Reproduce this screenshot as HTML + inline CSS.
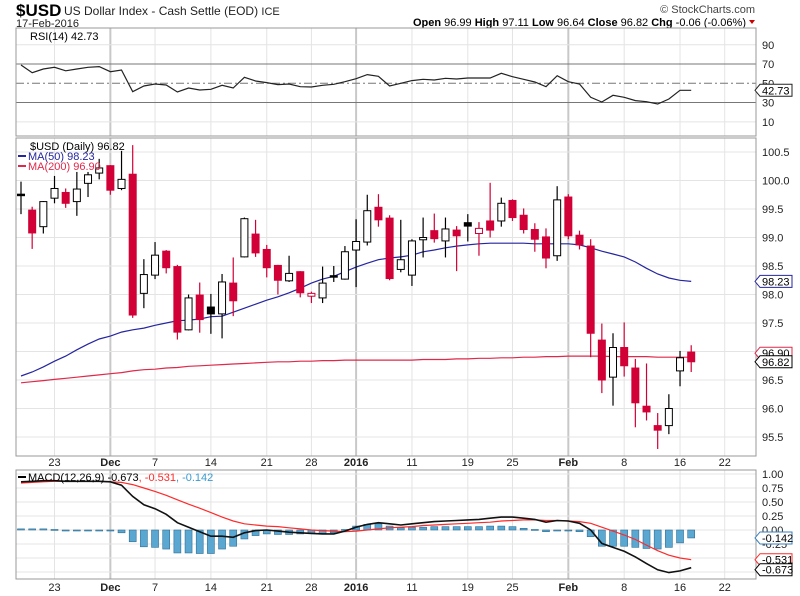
<!DOCTYPE html>
<html><head><meta charset="utf-8"><style>
body{margin:0;background:#fff;}
svg{display:block;font-family:"Liberation Sans",sans-serif;}
</style></head><body>
<svg id="chart" width="800" height="596" viewBox="0 0 800 596" xmlns="http://www.w3.org/2000/svg">
<text x="16" y="16" font-size="17" font-weight="bold" fill="#000">$USD</text>
<text x="64" y="15" font-size="12" fill="#222">US Dollar Index - Cash Settle (EOD) <tspan font-size="11">ICE</tspan></text>
<text x="16" y="27" font-size="11" fill="#222">17-Feb-2016</text>
<text x="755" y="13" font-size="11" fill="#444" text-anchor="end">© StockCharts.com</text>
<text x="746" y="26" font-size="11" fill="#000" text-anchor="end"><tspan font-weight="bold">Open</tspan> 96.99  <tspan font-weight="bold">High</tspan> 97.11  <tspan font-weight="bold">Low</tspan> 96.64  <tspan font-weight="bold">Close</tspan> 96.82  <tspan font-weight="bold">Chg</tspan> -0.06 (-0.06%)</text>
<path d="M749 20 L755 20 L752 24 Z" fill="#c00"/>
<g id="grid"></g>
<g id="marks"></g>
<g id="labels"></g>
</svg>
<script>
const opens=[99.76,99.48,99.19,99.69,99.79,99.63,99.95,100.13,100.26,99.86,100.11,98.02,98.34,98.76,98.49,97.38,97.99,97.78,97.66,98.20,98.66,99.06,98.79,98.51,98.24,98.40,97.97,97.94,98.33,98.27,98.78,98.92,99.53,99.34,98.44,98.34,98.96,99.12,98.94,99.13,99.26,99.07,99.29,99.29,99.65,99.39,99.14,99.01,98.68,99.71,99.04,98.85,97.20,96.55,97.07,96.71,96.04,95.70,95.70,96.66,96.99];
const highs=[99.98,99.54,99.64,100.08,99.86,100.15,100.15,100.38,100.27,100.52,100.62,98.62,98.92,98.78,98.52,98.00,98.21,98.01,98.36,98.65,99.35,99.31,98.87,98.52,98.68,98.41,98.05,98.49,98.50,98.85,99.32,99.75,99.76,99.39,99.31,98.97,99.35,99.42,99.35,99.20,99.41,99.27,99.96,99.70,99.67,99.51,99.25,99.16,99.90,99.76,99.12,98.97,97.49,97.32,97.51,96.87,96.79,95.92,96.25,97.01,97.11];
const lows=[99.41,98.80,99.07,99.60,99.52,99.38,99.71,100.02,99.75,99.83,97.59,97.76,98.27,98.37,97.21,97.37,97.33,97.31,97.23,97.62,98.65,98.66,98.30,98.00,98.22,97.95,97.85,97.85,98.22,98.26,98.13,98.86,99.19,98.25,98.39,98.15,98.65,98.91,98.65,98.41,98.93,98.68,99.00,99.19,99.29,99.07,98.75,98.46,98.59,98.97,98.79,96.90,96.27,96.05,96.56,95.67,95.79,95.29,95.55,96.39,96.64];
const closes=[99.75,99.08,99.63,99.86,99.60,99.85,100.10,100.22,99.83,100.02,97.64,98.35,98.69,98.47,97.34,97.94,97.56,97.66,98.22,97.89,99.33,98.73,98.47,98.25,98.37,98.03,98.02,98.20,98.32,98.75,98.93,99.47,99.31,98.28,98.61,98.94,99.00,98.98,99.15,99.03,99.20,99.16,99.13,99.60,99.35,99.14,98.97,98.64,99.66,99.03,98.87,97.32,96.50,97.07,96.75,96.10,95.94,95.62,96.00,96.89,96.82];
const ma50=[96.57,96.64,96.73,96.83,96.92,97.03,97.13,97.22,97.27,97.34,97.38,97.41,97.46,97.50,97.54,97.55,97.57,97.61,97.62,97.69,97.76,97.83,97.90,97.96,98.03,98.11,98.20,98.27,98.32,98.40,98.48,98.55,98.61,98.64,98.66,98.69,98.75,98.78,98.82,98.85,98.87,98.89,98.90,98.90,98.90,98.90,98.89,98.89,98.89,98.89,98.87,98.82,98.76,98.71,98.66,98.57,98.46,98.36,98.29,98.25,98.23];
const ma200=[96.45,96.47,96.49,96.51,96.53,96.55,96.57,96.59,96.61,96.63,96.66,96.68,96.69,96.71,96.72,96.74,96.75,96.76,96.77,96.78,96.79,96.80,96.81,96.82,96.82,96.83,96.83,96.84,96.84,96.85,96.85,96.85,96.85,96.85,96.85,96.85,96.86,96.86,96.86,96.87,96.87,96.88,96.88,96.89,96.89,96.90,96.90,96.91,96.91,96.92,96.92,96.92,96.92,96.91,96.91,96.91,96.91,96.90,96.90,96.90,96.90];
const rsi=[69,61,64.8,66.6,63,64.8,66.6,67.3,62,63.8,41.3,47.2,49.3,48.2,41,45.1,43,43.8,47.9,45.1,56.2,52.4,50.7,48.6,49.3,46.5,46.2,47.9,49,51.7,54.8,59,57.3,47.2,50,52.8,54.2,53.4,55.2,54.5,55.5,55.5,55.5,60.4,56.9,54.2,51.3,46.5,57.9,51.7,49.3,35.5,30.6,37.5,35.5,32,30.9,28.5,33.7,42.7,42.73];
const macd=[0.86,0.87,0.88,0.88,0.87,0.87,0.87,0.87,0.86,0.80,0.60,0.45,0.38,0.28,0.13,0.05,-0.03,-0.11,-0.11,-0.13,-0.05,-0.01,0.00,-0.02,-0.04,-0.05,-0.06,-0.07,-0.07,-0.02,0.05,0.10,0.13,0.11,0.09,0.11,0.13,0.15,0.16,0.17,0.18,0.19,0.21,0.23,0.23,0.21,0.19,0.14,0.17,0.16,0.12,0.00,-0.24,-0.31,-0.38,-0.48,-0.60,-0.71,-0.76,-0.73,-0.673];
const signal=[0.84,0.85,0.86,0.87,0.87,0.87,0.87,0.87,0.86,0.85,0.81,0.75,0.69,0.62,0.54,0.46,0.39,0.31,0.23,0.16,0.11,0.09,0.07,0.06,0.04,0.02,0.00,-0.01,-0.02,-0.03,-0.02,0.00,0.02,0.04,0.05,0.06,0.08,0.09,0.10,0.11,0.12,0.13,0.14,0.16,0.17,0.18,0.18,0.17,0.17,0.16,0.15,0.12,0.05,-0.02,-0.09,-0.17,-0.27,-0.37,-0.45,-0.50,-0.531];
const dateLabels=["23","Dec","7","14","21","28","2016","11","19","25","Feb","8","16","22"];
const dateIdx=[3,8,12,17,22,26,30,35,40,44,49,54,59,63];
const monthStart=[false,true,false,false,false,false,true,false,false,false,true,false,false,false];
const priceTicks=[95.5,96.0,96.5,97.0,97.5,98.0,98.5,99.0,99.5,100.0,100.5];
const rsiTicks=[90,70,50,30,10];
const macdTicks=[1.00,0.75,0.50,0.25,0.00,-0.25,-0.50,-0.75];

const NS="http://www.w3.org/2000/svg";
const L=16,R=756;
const P={rT:28,rB:136,mT:138,mB:456,dT:470,dB:579};
const xi=i=>21+i*11.17;
const yP=p=>152+(100.5-p)*57;
const yR=r=>83.3-(r-50)*0.963;
const yM=m=>530-m*56;
const grid=document.getElementById('grid'),marks=document.getElementById('marks'),labels=document.getElementById('labels');
function mk(tag,attrs,parent){const e=document.createElementNS(NS,tag);for(const k in attrs)e.setAttribute(k,attrs[k]);parent.appendChild(e);return e;}
function txt(s,x,y,attrs,parent){const t=mk('text',Object.assign({x:x,y:y,'font-size':11,fill:'#222'},attrs),parent);t.textContent=s;return t;}

[[P.rT,P.rB],[P.mT,P.mB],[P.dT,P.dB]].forEach(([t,b])=>{
  dateIdx.forEach((d,k)=>{
    const ln=mk('line',{x1:xi(d),x2:xi(d),y1:t,y2:b,stroke:monthStart[k]?'#c8c8c8':'#e4e4e4','stroke-width':monthStart[k]?2:1},grid);
    
    
  });
});
priceTicks.forEach(p=>{
  const ln=mk('line',{x1:L,x2:R,y1:yP(p),y2:yP(p),stroke:'#e4e4e4'},grid);
  
  
  const t=txt(p.toFixed(1),762,yP(p)+4,{},labels);
  
  
});
rsiTicks.forEach(r=>{
  const dark=(r===70||r===30);
  const ln=mk('line',{x1:L,x2:R,y1:yR(r),y2:yR(r),stroke:dark?'#777':(r===50?'#777':'#e4e4e4'),'stroke-dasharray':r===50?'8,3,2,3':'none'},grid);
  
  
  const t=txt(String(r),762,yR(r)+4,{},labels);
  
  
});
macdTicks.forEach(m=>{
  const ln=mk('line',{x1:L,x2:R,y1:yM(m),y2:yM(m),stroke:'#e4e4e4'},grid);
  
  
  const t=txt(m.toFixed(2),762,yM(m)+4,{},labels);
  
  
});
dateIdx.forEach((d,k)=>{
  [466,591].forEach(yy=>{
    const t=txt(dateLabels[k],xi(d),yy,{'text-anchor':'middle','font-weight':monthStart[k]?'bold':'normal'},labels);
    
    
  });
});
[[P.rT,P.rB,'rsi-panel-border'],[P.mT,P.mB,'price-panel-border'],[P.dT,P.dB,'macd-panel-border']].forEach(([t,b,n])=>{
  const r=mk('rect',{x:L,y:t,width:R-L,height:b-t,fill:'none',stroke:'#999'},labels);
  
  
});

function poly(arr,yf,color,w,name,parent){
  const pts=arr.map((v,i)=>xi(i).toFixed(1)+','+yf(v).toFixed(1)).join(' ');
  const p=mk('polyline',{points:pts,fill:'none',stroke:color,'stroke-width':w},parent);
  
  
}
poly(rsi,yR,'#222',1.2,'rsi-line',marks);
poly(ma200,yP,'#e0284a',1.2,'ma200-line',marks);
poly(ma50,yP,'#2525a0',1.2,'ma50-line',marks);
opens.forEach((o,i)=>{
  const c=closes[i],h=highs[i],l=lows[i];
  const prev=i>0?closes[i-1]:c;
  const col=c<prev?'#d10036':'#000';
  const hollow=c>o;
  const x=xi(i);
  const g=mk('g',{},marks);
  
  
  mk('line',{x1:x,x2:x,y1:yP(h),y2:yP(l),stroke:col,'stroke-width':1.2},g);
  const top=yP(Math.max(o,c)),bot=yP(Math.min(o,c));
  mk('rect',{x:x-3.5,y:top,width:7,height:Math.max(bot-top,1.5),fill:hollow?'#fff':col,stroke:col,'stroke-width':1},g);
});
macd.forEach((m,i)=>{
  const h=m-signal[i];
  const y0=yM(0),y1=yM(h);
  const r=mk('rect',{x:xi(i)-3.5,y:Math.min(y0,y1),width:7,height:Math.max(Math.abs(y1-y0),1),fill:'#5aa7d2',stroke:'#2f6f95','stroke-width':0.6},marks);
  
  
});
poly(signal,yM,'#ff2a2a',1.2,'macd-signal-line',marks);
poly(macd,yM,'#111',1.6,'macd-line',marks);

function tag(v,y,color,name){
  const g=mk('g',{},labels);
  
  
  mk('path',{d:`M755 ${y} L760 ${y-6} L792 ${y-6} L792 ${y+6} L760 ${y+6} Z`,fill:'#fff',stroke:color},g);
  txt(v,762,y+4,{fill:'#000'},g);
}
tag('42.73',yR(42.73),'#222','rsi-value-tag');
tag('96.90',yP(96.90)-4,'#e0284a','ma200-value-tag');
tag('98.23',yP(98.23),'#2525a0','ma50-value-tag');
tag('96.82',yP(96.82),'#000','close-value-tag');
tag('-0.142',yM(-0.142),'#3a7fc0','histogram-value-tag');
tag('-0.531',yM(-0.531),'#ff2a2a','signal-value-tag');
tag('-0.673',yM(-0.673)+2,'#000','macd-value-tag');

function legend(s,x,y,col,name,sw){
  const t=txt(s,x,y,{fill:col,'font-size':11},labels);
  
  
  if(sw){const r=mk('rect',{x:x-10,y:y-5,width:8,height:2,fill:sw},labels);
    
    }
}
legend('RSI(14) 42.73',30,40,'#000','rsi-legend');
legend('$USD (Daily) 96.82',30,150,'#000','price-legend');
legend('MA(50) 98.23',28,160,'#2525a0','ma50-legend','#2525a0');
legend('MA(200) 96.90',28,170,'#e0284a','ma200-legend','#e0284a');
const ml=txt('',28,481,{'font-size':11},labels);


ml.innerHTML='<tspan fill="#000">MACD(12,26,9) -0.673</tspan><tspan fill="#ff2a2a">, -0.531</tspan><tspan fill="#3a9ad0">, -0.142</tspan>';
const sw=mk('rect',{x:18,y:476,width:8,height:2,fill:'#000'},labels);


</script>
</body></html>
